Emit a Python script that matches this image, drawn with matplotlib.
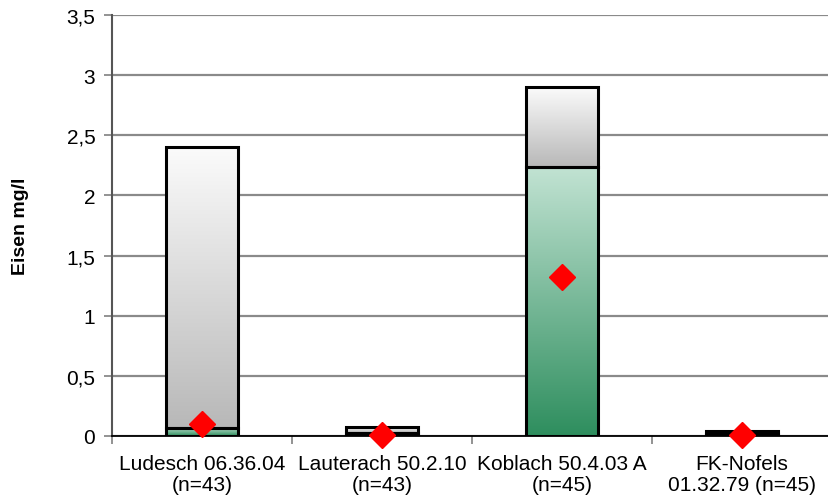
import numpy as np
import matplotlib.pyplot as plt
from matplotlib.colors import LinearSegmentedColormap

plt.rcParams['font.family'] = ['Liberation Sans', 'DejaVu Sans']

# data (Eisen mg/l)
stations = ['Ludesch 06.36.04\n(n=43)', 'Lauterach 50.2.10\n(n=43)',
            'Koblach 50.4.03 A\n(n=45)', 'FK-Nofels\n01.32.79 (n=45)']
lower = [0.07, 0.025, 2.24, 0.015]   # green part
upper = [2.4, 0.075, 2.9, 0.04]      # top of box
mean = [0.1, 0.01, 1.32, 0.01]

green = LinearSegmentedColormap.from_list('g', ['#2e8e5e', '#c2e3d3'])
grey = LinearSegmentedColormap.from_list('k', ['#b8b8b8', '#fbfbfb'])

fig = plt.figure(figsize=(8.29, 5.02), dpi=100)
ax = fig.add_axes([112/829, 65/502, 717/829, 421/502])

x = np.arange(len(stations))
w = 0.4
grad = np.linspace(0, 1, 256).reshape(-1, 1)

for i in range(len(stations)):
    ax.imshow(grad, cmap=green, origin='lower', aspect='auto',
              extent=[x[i]-w/2, x[i]+w/2, 0, lower[i]], zorder=2)
    ax.imshow(grad, cmap=grey, origin='lower', aspect='auto',
              extent=[x[i]-w/2, x[i]+w/2, lower[i], upper[i]], zorder=2)

ax.bar(x, lower, w, facecolor='none', edgecolor='black', linewidth=2.2, zorder=3)
ax.bar(x, np.array(upper) - np.array(lower), w, bottom=lower,
       facecolor='none', edgecolor='black', linewidth=2.2, zorder=3)
ax.plot(x, mean, 'D', color='red', markersize=13, zorder=4, clip_on=False)

ax.set_xlim(-0.5, -0.5 + 717/180)
ax.set_ylim(0, 3.5)
ax.set_yticks(np.arange(0, 3.51, 0.5))
ax.set_yticklabels(['0', '0,5', '1', '1,5', '2', '2,5', '3', '3,5'], fontsize=15)
ax.set_xticks(x)
ax.set_xticklabels(stations, fontsize=15, linespacing=1.15)
ax.set_xticks(np.arange(-0.5, 3.5, 1), minor=True)
ax.tick_params(axis='x', which='major', length=0, pad=13)
ax.tick_params(axis='x', which='minor', length=6, color='#808080', width=1.2)
ax.tick_params(axis='y', length=6, color='#808080', width=1.2, pad=6)

ax.yaxis.grid(True, color='#8a8a8a', linewidth=1.6)
ax.set_axisbelow(True)
for s in ['top', 'right']:
    ax.spines[s].set_visible(False)
ax.spines['left'].set_color('#555555')
ax.spines['left'].set_linewidth(1.5)
ax.spines['bottom'].set_color('black')
ax.spines['bottom'].set_linewidth(1.3)

ax.set_ylabel('Eisen mg/l', fontsize=14, fontweight='bold', labelpad=27)

fig.savefig('out.png', dpi=100)
